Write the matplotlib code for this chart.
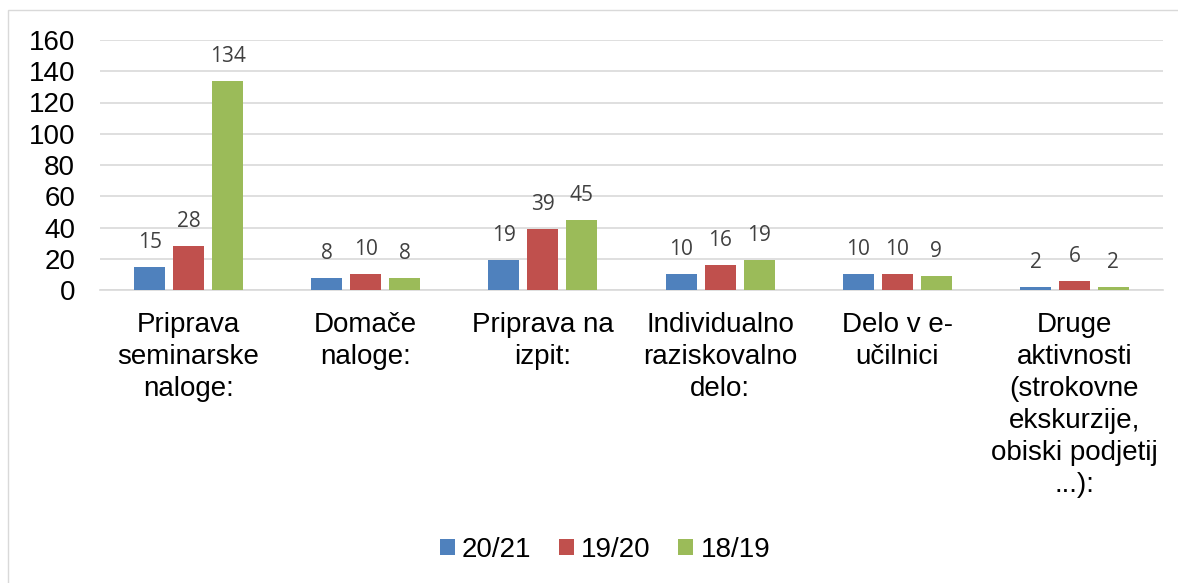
import matplotlib
matplotlib.use("Agg")
import matplotlib.pyplot as plt
import numpy as np
from matplotlib.patches import Rectangle

categories = ["Priprava\nseminarske\nnaloge:", "Domače\nnaloge:", "Priprava na\nizpit:",
              "Individualno\nraziskovalno\ndelo:", "Delo v e-\nučilnici",
              "Druge\naktivnosti\n(strokovne\nekskurzije,\nobiski podjetij\n...):"]
series_names = ["20/21", "19/20", "18/19"]
v2021 = [15, 8, 19, 10, 10, 2]
v1920 = [28, 10, 39, 16, 10, 6]
v1819 = [134, 8, 45, 19, 9, 2]
yticks = [0, 20, 40, 60, 80, 100, 120, 140, 160]
colors = ["#4F81BD", "#C0504D", "#9BBB59"]

W, H = 1178, 583
fig = plt.figure(figsize=(W / 100, H / 100), dpi=100)
fig.patches.append(Rectangle((8 / W, -0.1), 1.2, 1.1 - 10 / H,
                             transform=fig.transFigure, fill=False,
                             edgecolor="#D9D9D9", linewidth=1))
ax = fig.add_axes([100 / W, 1 - 290 / H, (1163 - 100) / W, 250 / H])

x = np.arange(len(categories))
bw = 0.175
step = 0.22
data = [v2021, v1920, v1819]
for i, (vals, c, name) in enumerate(zip(data, colors, series_names)):
    pos = x + (i - 1) * step
    ax.bar(pos, vals, width=bw, color=c, label=name, zorder=3)
    for p, v in zip(pos, vals):
        ax.annotate(str(v), (p, v), xytext=(0, 10), textcoords="offset points",
                    ha="center", va="bottom", fontsize=15, color="#404040",
                    family=["Open Sans", "DejaVu Sans"])

ax.set_xlim(-0.5, len(categories) - 0.5)
ax.set_ylim(0, 160)
ax.set_yticks(yticks)
ax.set_yticklabels([str(t) for t in yticks], fontsize=20,
                   family=["Liberation Sans", "DejaVu Sans"])
ax.grid(axis="y", color="#D9D9D9", linewidth=1.2, zorder=0)
for s in ["top", "right", "left"]:
    ax.spines[s].set_visible(False)
ax.spines["bottom"].set_color("#D9D9D9")
ax.spines["bottom"].set_linewidth(1.2)
ax.tick_params(axis="both", length=0)
ax.tick_params(axis="y", pad=18)
ax.set_xticks(x)
ax.set_xticklabels(categories, fontsize=20, family=["Liberation Sans", "DejaVu Sans"],
                   linespacing=1.3, va="top")
ax.tick_params(axis="x", pad=16)

fig.legend(loc="center", bbox_to_anchor=(605 / W, 1 - 550 / H), ncol=3,
           frameon=False, prop={"family": "Liberation Sans", "size": 20},
           handlelength=0.54, handleheight=0.54, handletextpad=0.25,
           columnspacing=1.0)

fig.savefig("out.png", dpi=100)
